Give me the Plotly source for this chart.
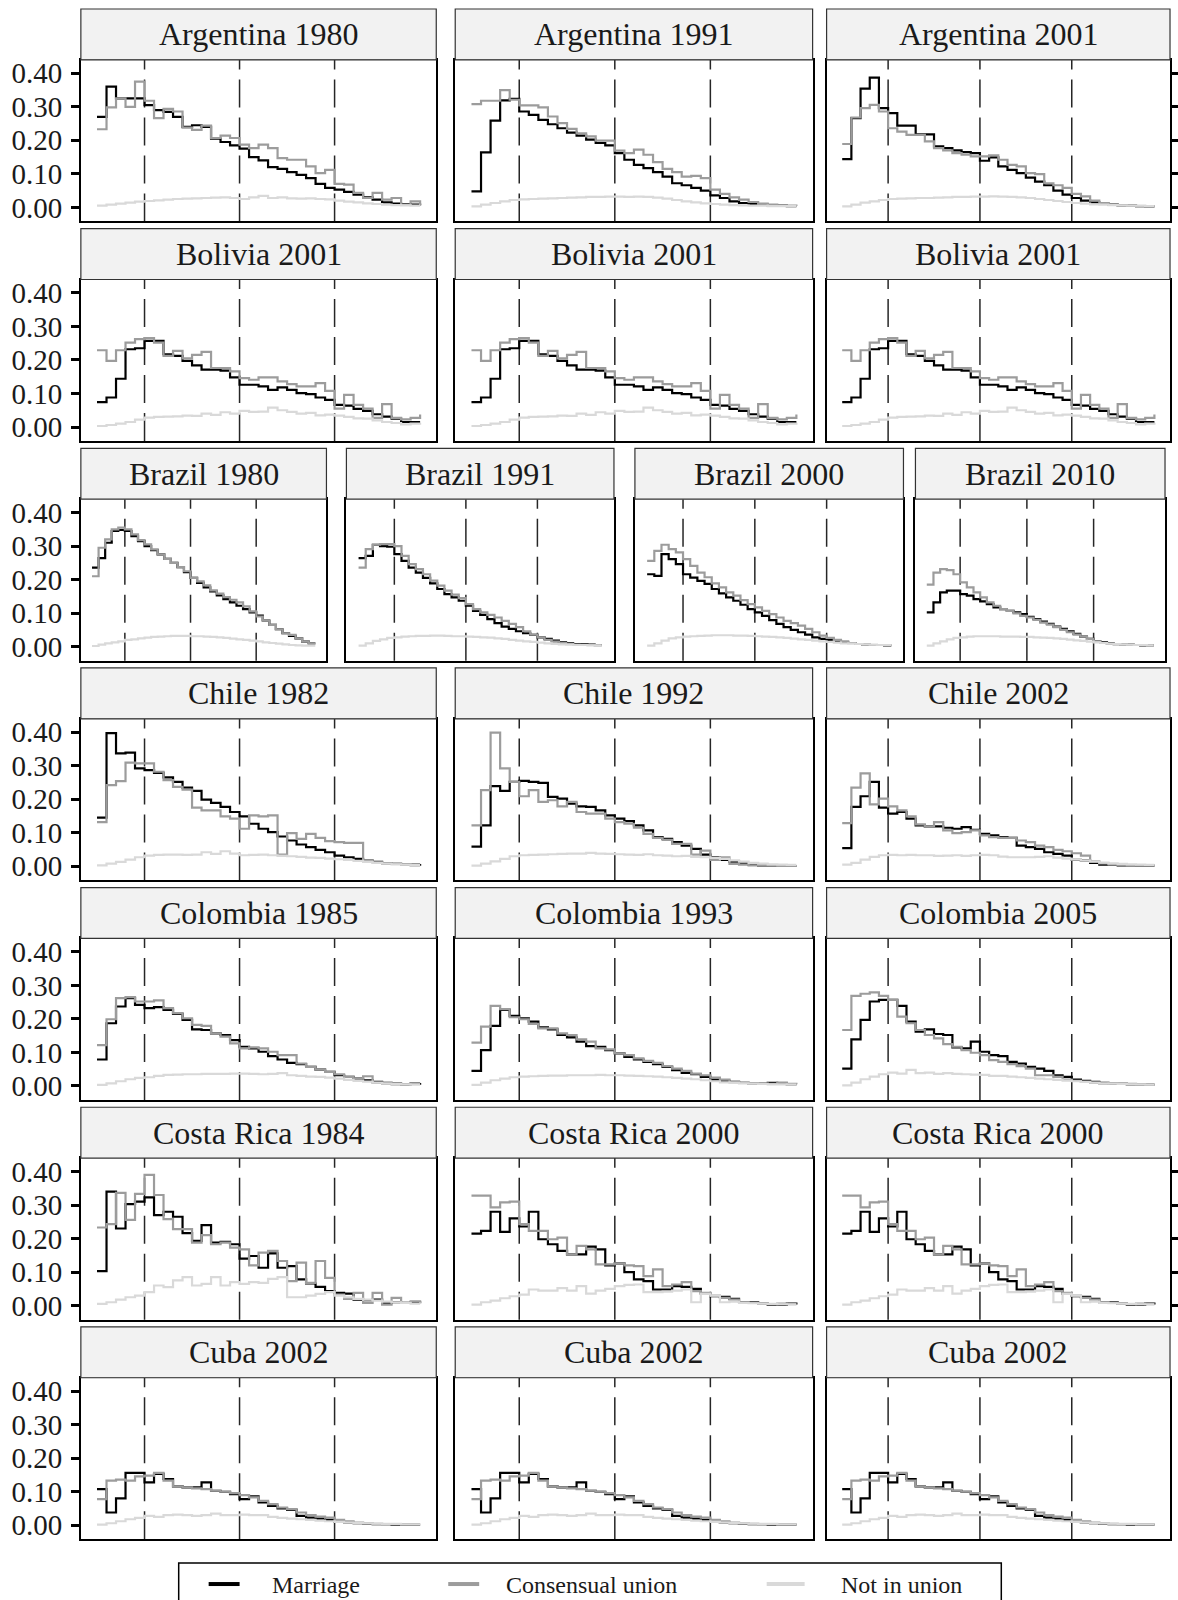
import plotly.graph_objects as go

# ---------------- data (ages 15..49) ----------------
AGES = list(range(15, 50))
SERIES_NAMES = ["Marriage", "Consensual union", "Not in union"]
Y_TICKS = [0.0, 0.1, 0.2, 0.3, 0.4]
Y_TICK_LABELS = ["0.00", "0.10", "0.20", "0.30", "0.40"]
DASH_AGES = [20, 30, 40]

arg1980_mar = [0.27, 0.36, 0.325, 0.325, 0.325, 0.305, 0.29, 0.285, 0.27, 0.24, 0.245, 0.24, 0.205, 0.195, 0.185, 0.175, 0.15, 0.14, 0.12, 0.115, 0.105, 0.097, 0.087, 0.07, 0.058, 0.053, 0.046, 0.038, 0.03, 0.023, 0.015, 0.011, 0.01, 0.008, 0.006]
arg1980_con = [0.233, 0.298, 0.325, 0.30, 0.375, 0.318, 0.266, 0.294, 0.286, 0.238, 0.231, 0.244, 0.207, 0.214, 0.207, 0.187, 0.177, 0.187, 0.177, 0.147, 0.142, 0.142, 0.122, 0.102, 0.112, 0.07, 0.068, 0.043, 0.028, 0.043, 0.023, 0.028, 0.008, 0.018, 0.006]
arg1980_not = [0.005, 0.008, 0.011, 0.014, 0.017, 0.019, 0.021, 0.023, 0.025, 0.026, 0.027, 0.028, 0.029, 0.03, 0.028, 0.025, 0.03, 0.034, 0.028, 0.03, 0.027, 0.026, 0.027, 0.025, 0.024, 0.02, 0.017, 0.015, 0.012, 0.01, 0.008, 0.007, 0.006, 0.005, 0.005]

arg1991_mar = [0.048, 0.164, 0.259, 0.319, 0.324, 0.286, 0.276, 0.261, 0.248, 0.236, 0.223, 0.214, 0.202, 0.192, 0.185, 0.162, 0.142, 0.127, 0.117, 0.105, 0.092, 0.072, 0.066, 0.058, 0.05, 0.036, 0.028, 0.018, 0.013, 0.01, 0.008, 0.006, 0.005, 0.004, 0.004]
arg1991_con = [0.308, 0.318, 0.318, 0.35, 0.321, 0.304, 0.304, 0.298, 0.271, 0.251, 0.234, 0.221, 0.212, 0.199, 0.199, 0.169, 0.162, 0.172, 0.157, 0.135, 0.115, 0.105, 0.092, 0.094, 0.087, 0.053, 0.04, 0.03, 0.023, 0.016, 0.011, 0.008, 0.006, 0.005, 0.004]
arg1991_not = [0.003, 0.008, 0.013, 0.018, 0.022, 0.024, 0.025, 0.026, 0.027, 0.028, 0.029, 0.03, 0.031, 0.031, 0.032, 0.032, 0.031, 0.032, 0.031, 0.029, 0.026, 0.022, 0.018, 0.015, 0.012, 0.01, 0.008, 0.007, 0.006, 0.005, 0.005, 0.004, 0.004, 0.004, 0.004]

arg2001_mar = [0.144, 0.266, 0.354, 0.387, 0.296, 0.281, 0.244, 0.244, 0.218, 0.218, 0.182, 0.177, 0.17, 0.165, 0.162, 0.139, 0.149, 0.122, 0.112, 0.102, 0.089, 0.077, 0.066, 0.05, 0.038, 0.028, 0.02, 0.015, 0.011, 0.008, 0.006, 0.005, 0.004, 0.003, 0.003]
arg2001_con = [0.189, 0.268, 0.296, 0.306, 0.286, 0.236, 0.226, 0.216, 0.216, 0.197, 0.177, 0.17, 0.162, 0.157, 0.152, 0.152, 0.155, 0.142, 0.127, 0.122, 0.102, 0.099, 0.072, 0.066, 0.058, 0.04, 0.033, 0.02, 0.013, 0.008, 0.006, 0.005, 0.004, 0.003, 0.003]
arg2001_not = [0.003, 0.008, 0.014, 0.018, 0.022, 0.025, 0.026, 0.027, 0.028, 0.028, 0.029, 0.03, 0.031, 0.031, 0.032, 0.032, 0.033, 0.032, 0.031, 0.03, 0.028, 0.025, 0.022, 0.019, 0.016, 0.013, 0.011, 0.009, 0.008, 0.007, 0.006, 0.005, 0.005, 0.004, 0.004]

bol2001_mar = [0.074, 0.088, 0.144, 0.232, 0.235, 0.257, 0.257, 0.217, 0.212, 0.197, 0.184, 0.171, 0.171, 0.168, 0.148, 0.126, 0.126, 0.121, 0.111, 0.118, 0.111, 0.101, 0.098, 0.088, 0.081, 0.066, 0.064, 0.054, 0.048, 0.038, 0.031, 0.025, 0.015, 0.015, 0.015]
bol2001_con = [0.229, 0.197, 0.229, 0.252, 0.262, 0.265, 0.252, 0.212, 0.227, 0.205, 0.215, 0.224, 0.176, 0.176, 0.166, 0.146, 0.141, 0.148, 0.148, 0.136, 0.128, 0.121, 0.121, 0.131, 0.108, 0.055, 0.096, 0.066, 0.055, 0.027, 0.068, 0.027, 0.023, 0.027, 0.037]
bol2001_not = [0.003, 0.006, 0.01, 0.015, 0.022, 0.028, 0.03, 0.031, 0.032, 0.034, 0.033, 0.04, 0.036, 0.044, 0.04, 0.048, 0.045, 0.046, 0.058, 0.05, 0.045, 0.04, 0.042, 0.035, 0.037, 0.034, 0.03, 0.026, 0.025, 0.02, 0.015, 0.012, 0.008, 0.01, 0.013]

bra1980_mar = [0.236, 0.264, 0.31, 0.345, 0.348, 0.345, 0.33, 0.315, 0.30, 0.288, 0.275, 0.262, 0.25, 0.237, 0.222, 0.205, 0.19, 0.177, 0.165, 0.153, 0.142, 0.132, 0.122, 0.112, 0.102, 0.093, 0.078, 0.065, 0.052, 0.04, 0.032, 0.025, 0.015, 0.01, 0.01]
bra1980_con = [0.21, 0.295, 0.32, 0.35, 0.355, 0.35, 0.335, 0.318, 0.305, 0.29, 0.275, 0.262, 0.25, 0.237, 0.225, 0.205, 0.195, 0.183, 0.168, 0.158, 0.148, 0.14, 0.132, 0.12, 0.105, 0.09, 0.078, 0.065, 0.052, 0.04, 0.035, 0.025, 0.015, 0.01, 0.01]
bra1980_not = [0.002, 0.006, 0.01, 0.013, 0.016, 0.02, 0.022, 0.025, 0.027, 0.029, 0.03, 0.031, 0.032, 0.032, 0.032, 0.031, 0.031, 0.03, 0.029, 0.028, 0.026, 0.024, 0.022, 0.02, 0.018, 0.016, 0.013, 0.011, 0.009, 0.007, 0.005, 0.004, 0.003, 0.003, 0.003]

bra1991_mar = [0.264, 0.271, 0.304, 0.30, 0.298, 0.276, 0.256, 0.236, 0.221, 0.205, 0.189, 0.172, 0.157, 0.147, 0.137, 0.122, 0.107, 0.095, 0.082, 0.07, 0.06, 0.053, 0.046, 0.04, 0.035, 0.028, 0.023, 0.018, 0.013, 0.01, 0.008, 0.007, 0.006, 0.005, 0.005]
bra1991_con = [0.236, 0.291, 0.304, 0.306, 0.306, 0.30, 0.271, 0.246, 0.231, 0.216, 0.197, 0.182, 0.167, 0.155, 0.145, 0.127, 0.112, 0.102, 0.095, 0.087, 0.077, 0.068, 0.058, 0.046, 0.036, 0.028, 0.02, 0.015, 0.011, 0.008, 0.006, 0.005, 0.005, 0.004, 0.004]
bra1991_not = [0.003, 0.01, 0.017, 0.022, 0.026, 0.028, 0.03, 0.031, 0.032, 0.032, 0.033, 0.033, 0.032, 0.031, 0.031, 0.03, 0.029, 0.028, 0.027, 0.025, 0.023, 0.02, 0.018, 0.016, 0.014, 0.012, 0.01, 0.008, 0.007, 0.006, 0.005, 0.005, 0.004, 0.004, 0.004]

bra2000_mar = [0.216, 0.211, 0.276, 0.261, 0.246, 0.216, 0.206, 0.196, 0.187, 0.172, 0.159, 0.147, 0.137, 0.125, 0.112, 0.102, 0.092, 0.079, 0.068, 0.058, 0.05, 0.043, 0.036, 0.028, 0.023, 0.02, 0.016, 0.013, 0.011, 0.008, 0.006, 0.005, 0.005, 0.004, 0.004]
bra2000_con = [0.256, 0.286, 0.304, 0.291, 0.281, 0.261, 0.241, 0.221, 0.207, 0.189, 0.177, 0.162, 0.152, 0.139, 0.127, 0.117, 0.107, 0.097, 0.087, 0.077, 0.07, 0.063, 0.053, 0.043, 0.033, 0.026, 0.02, 0.016, 0.011, 0.008, 0.006, 0.005, 0.005, 0.004, 0.004]
bra2000_not = [0.003, 0.01, 0.018, 0.025, 0.028, 0.03, 0.031, 0.032, 0.033, 0.034, 0.034, 0.034, 0.033, 0.033, 0.032, 0.031, 0.03, 0.029, 0.028, 0.026, 0.024, 0.022, 0.02, 0.018, 0.016, 0.014, 0.012, 0.01, 0.009, 0.008, 0.007, 0.006, 0.005, 0.005, 0.005]

bra2010_mar = [0.102, 0.132, 0.162, 0.167, 0.167, 0.157, 0.152, 0.142, 0.135, 0.127, 0.117, 0.112, 0.107, 0.102, 0.097, 0.089, 0.082, 0.075, 0.068, 0.06, 0.053, 0.046, 0.038, 0.03, 0.023, 0.016, 0.013, 0.01, 0.008, 0.007, 0.006, 0.005, 0.004, 0.004, 0.004]
bra2010_con = [0.185, 0.221, 0.231, 0.228, 0.216, 0.192, 0.177, 0.162, 0.147, 0.132, 0.122, 0.112, 0.107, 0.099, 0.092, 0.087, 0.08, 0.072, 0.066, 0.058, 0.05, 0.043, 0.036, 0.03, 0.023, 0.016, 0.011, 0.008, 0.007, 0.006, 0.005, 0.005, 0.004, 0.004, 0.004]
bra2010_not = [0.003, 0.01, 0.016, 0.022, 0.026, 0.028, 0.03, 0.031, 0.031, 0.031, 0.031, 0.03, 0.03, 0.03, 0.029, 0.029, 0.028, 0.027, 0.026, 0.025, 0.023, 0.021, 0.019, 0.017, 0.015, 0.013, 0.011, 0.009, 0.008, 0.007, 0.006, 0.005, 0.005, 0.004, 0.004]

chi1982_mar = [0.145, 0.397, 0.337, 0.339, 0.292, 0.287, 0.279, 0.265, 0.252, 0.235, 0.225, 0.199, 0.189, 0.177, 0.162, 0.149, 0.127, 0.112, 0.102, 0.089, 0.077, 0.065, 0.057, 0.049, 0.042, 0.032, 0.027, 0.022, 0.017, 0.013, 0.009, 0.007, 0.005, 0.005, 0.007]
chi1982_con = [0.132, 0.242, 0.254, 0.309, 0.307, 0.307, 0.282, 0.257, 0.237, 0.229, 0.175, 0.167, 0.167, 0.149, 0.142, 0.112, 0.152, 0.149, 0.152, 0.035, 0.099, 0.082, 0.097, 0.085, 0.075, 0.072, 0.07, 0.07, 0.017, 0.012, 0.009, 0.007, 0.004, 0.003, 0.003]
chi1982_not = [0.003, 0.008, 0.013, 0.02, 0.027, 0.032, 0.034, 0.035, 0.035, 0.034, 0.035, 0.042, 0.037, 0.045, 0.038, 0.033, 0.034, 0.035, 0.033, 0.031, 0.03, 0.028, 0.026, 0.025, 0.023, 0.021, 0.019, 0.016, 0.013, 0.01, 0.008, 0.006, 0.005, 0.004, 0.004]

chi1992_mar = [0.059, 0.122, 0.239, 0.225, 0.252, 0.255, 0.252, 0.249, 0.207, 0.202, 0.187, 0.179, 0.177, 0.167, 0.152, 0.142, 0.135, 0.122, 0.107, 0.087, 0.082, 0.072, 0.062, 0.052, 0.035, 0.027, 0.019, 0.014, 0.009, 0.005, 0.002, 0.002, 0.001, 0.001, 0.001]
chi1992_con = [0.122, 0.227, 0.399, 0.292, 0.252, 0.209, 0.227, 0.192, 0.197, 0.179, 0.192, 0.162, 0.157, 0.157, 0.142, 0.132, 0.127, 0.115, 0.097, 0.085, 0.079, 0.067, 0.067, 0.035, 0.047, 0.019, 0.027, 0.007, 0.005, 0.003, 0.002, 0.002, 0.001, 0.001, 0.001]
chi1992_not = [0.002, 0.008, 0.015, 0.022, 0.03, 0.033, 0.034, 0.035, 0.036, 0.037, 0.038, 0.038, 0.04, 0.038, 0.037, 0.036, 0.035, 0.034, 0.036, 0.033, 0.032, 0.03, 0.031, 0.028, 0.027, 0.025, 0.022, 0.018, 0.014, 0.01, 0.008, 0.006, 0.005, 0.004, 0.004]

chi2002_mar = [0.054, 0.177, 0.209, 0.252, 0.175, 0.157, 0.162, 0.142, 0.122, 0.119, 0.119, 0.115, 0.112, 0.117, 0.109, 0.097, 0.092, 0.087, 0.085, 0.062, 0.057, 0.052, 0.042, 0.037, 0.032, 0.019, 0.017, 0.01, 0.005, 0.004, 0.003, 0.003, 0.002, 0.002, 0.002]
chi2002_con = [0.129, 0.235, 0.277, 0.185, 0.202, 0.179, 0.167, 0.149, 0.125, 0.119, 0.132, 0.107, 0.099, 0.102, 0.107, 0.092, 0.087, 0.085, 0.085, 0.077, 0.072, 0.062, 0.057, 0.049, 0.045, 0.039, 0.032, 0.015, 0.009, 0.005, 0.004, 0.003, 0.002, 0.002, 0.002]
chi2002_not = [0.005, 0.01, 0.02, 0.028, 0.033, 0.034, 0.033, 0.034, 0.033, 0.033, 0.031, 0.032, 0.033, 0.031, 0.033, 0.034, 0.033, 0.029, 0.027, 0.027, 0.027, 0.028, 0.03, 0.026, 0.023, 0.02, 0.017, 0.014, 0.011, 0.009, 0.007, 0.006, 0.005, 0.004, 0.004]

col1985_mar = [0.079, 0.187, 0.237, 0.262, 0.242, 0.232, 0.235, 0.227, 0.215, 0.197, 0.169, 0.167, 0.157, 0.152, 0.137, 0.117, 0.112, 0.102, 0.089, 0.079, 0.069, 0.065, 0.057, 0.049, 0.042, 0.032, 0.027, 0.022, 0.017, 0.012, 0.009, 0.007, 0.005, 0.007, 0.009]
col1985_con = [0.122, 0.199, 0.262, 0.265, 0.252, 0.252, 0.255, 0.232, 0.217, 0.202, 0.182, 0.179, 0.157, 0.147, 0.127, 0.112, 0.115, 0.112, 0.102, 0.092, 0.092, 0.067, 0.057, 0.049, 0.042, 0.035, 0.027, 0.022, 0.029, 0.009, 0.007, 0.005, 0.005, 0.007, 0.007]
col1985_not = [0.003, 0.008, 0.014, 0.02, 0.024, 0.026, 0.03, 0.033, 0.034, 0.035, 0.035, 0.036, 0.036, 0.036, 0.037, 0.037, 0.036, 0.035, 0.036, 0.038, 0.032, 0.03, 0.028, 0.027, 0.025, 0.022, 0.018, 0.015, 0.013, 0.01, 0.008, 0.006, 0.005, 0.004, 0.004]

col1993_mar = [0.045, 0.107, 0.179, 0.227, 0.209, 0.202, 0.192, 0.175, 0.169, 0.152, 0.145, 0.132, 0.119, 0.117, 0.107, 0.097, 0.087, 0.079, 0.072, 0.065, 0.057, 0.047, 0.039, 0.035, 0.027, 0.019, 0.015, 0.012, 0.009, 0.007, 0.007, 0.009, 0.007, 0.005, 0.005]
col1993_con = [0.129, 0.177, 0.239, 0.229, 0.205, 0.199, 0.185, 0.172, 0.172, 0.157, 0.152, 0.139, 0.132, 0.112, 0.109, 0.097, 0.092, 0.082, 0.075, 0.069, 0.059, 0.052, 0.045, 0.037, 0.032, 0.025, 0.019, 0.012, 0.009, 0.007, 0.007, 0.006, 0.01, 0.006, 0.005]
col1993_not = [0.003, 0.01, 0.017, 0.022, 0.026, 0.028, 0.029, 0.03, 0.031, 0.031, 0.032, 0.032, 0.032, 0.033, 0.032, 0.032, 0.031, 0.03, 0.029, 0.028, 0.026, 0.024, 0.022, 0.02, 0.017, 0.014, 0.011, 0.009, 0.008, 0.007, 0.006, 0.005, 0.005, 0.004, 0.004]

col2005_mar = [0.052, 0.139, 0.197, 0.252, 0.257, 0.257, 0.239, 0.192, 0.162, 0.169, 0.155, 0.152, 0.115, 0.112, 0.132, 0.102, 0.092, 0.089, 0.072, 0.067, 0.057, 0.052, 0.045, 0.032, 0.027, 0.019, 0.015, 0.012, 0.009, 0.007, 0.006, 0.005, 0.005, 0.004, 0.004]
col2005_con = [0.167, 0.269, 0.275, 0.279, 0.269, 0.257, 0.207, 0.187, 0.167, 0.152, 0.142, 0.125, 0.117, 0.107, 0.099, 0.092, 0.077, 0.072, 0.065, 0.059, 0.052, 0.032, 0.032, 0.027, 0.019, 0.015, 0.012, 0.009, 0.007, 0.008, 0.008, 0.006, 0.005, 0.004, 0.004]
col2005_not = [0.002, 0.01, 0.02, 0.028, 0.035, 0.04, 0.037, 0.048, 0.038, 0.04, 0.036, 0.038, 0.036, 0.035, 0.034, 0.033, 0.03, 0.03, 0.028, 0.026, 0.024, 0.022, 0.02, 0.018, 0.016, 0.014, 0.012, 0.01, 0.008, 0.007, 0.006, 0.005, 0.005, 0.004, 0.004]

cri1984_mar = [0.103, 0.34, 0.23, 0.303, 0.31, 0.323, 0.27, 0.28, 0.265, 0.216, 0.193, 0.24, 0.188, 0.19, 0.183, 0.14, 0.148, 0.113, 0.156, 0.113, 0.118, 0.078, 0.066, 0.056, 0.043, 0.038, 0.036, 0.018, 0.016, 0.018, 0.008, 0.01, 0.008, 0.01, 0.008]
cri1984_con = [0.233, 0.243, 0.336, 0.256, 0.333, 0.39, 0.33, 0.258, 0.228, 0.228, 0.188, 0.21, 0.183, 0.188, 0.173, 0.168, 0.12, 0.158, 0.163, 0.133, 0.073, 0.128, 0.068, 0.133, 0.083, 0.033, 0.02, 0.038, 0.008, 0.038, 0.003, 0.023, 0.008, 0.013, 0.006]
cri1984_not = [0.005, 0.01, 0.018, 0.025, 0.03, 0.04, 0.06, 0.055, 0.075, 0.085, 0.06, 0.065, 0.085, 0.06, 0.07, 0.065, 0.07, 0.068, 0.08, 0.085, 0.025, 0.025, 0.03, 0.035, 0.04, 0.03, 0.025, 0.02, 0.018, 0.015, 0.012, 0.01, 0.008, 0.006, 0.005]

cri2000_mar = [0.215, 0.223, 0.28, 0.22, 0.26, 0.236, 0.28, 0.198, 0.183, 0.163, 0.153, 0.153, 0.176, 0.168, 0.12, 0.126, 0.1, 0.078, 0.073, 0.048, 0.048, 0.058, 0.056, 0.05, 0.036, 0.028, 0.026, 0.02, 0.01, 0.01, 0.006, 0.003, 0.003, 0.006, 0.003]
cri2000_con = [0.328, 0.328, 0.293, 0.308, 0.31, 0.243, 0.223, 0.223, 0.198, 0.203, 0.153, 0.178, 0.168, 0.123, 0.123, 0.126, 0.12, 0.118, 0.088, 0.108, 0.058, 0.063, 0.07, 0.043, 0.038, 0.03, 0.023, 0.018, 0.01, 0.008, 0.006, 0.004, 0.006, 0.004, 0.004]
cri2000_not = [0.003, 0.01, 0.015, 0.022, 0.028, 0.033, 0.048, 0.045, 0.045, 0.052, 0.045, 0.058, 0.036, 0.045, 0.05, 0.058, 0.062, 0.063, 0.04, 0.04, 0.042, 0.045, 0.048, 0.01, 0.035, 0.03, 0.01, 0.012, 0.008, 0.007, 0.006, 0.005, 0.004, 0.004, 0.004]

cub2002_mar = [0.108, 0.038, 0.08, 0.156, 0.156, 0.128, 0.153, 0.138, 0.116, 0.113, 0.113, 0.128, 0.103, 0.1, 0.093, 0.078, 0.086, 0.068, 0.058, 0.05, 0.046, 0.028, 0.023, 0.02, 0.016, 0.01, 0.008, 0.006, 0.004, 0.003, 0.003, 0.002, 0.002, 0.002, 0.002]
cub2002_con = [0.078, 0.133, 0.136, 0.133, 0.146, 0.148, 0.156, 0.133, 0.116, 0.113, 0.11, 0.108, 0.103, 0.1, 0.096, 0.09, 0.083, 0.073, 0.063, 0.053, 0.048, 0.038, 0.03, 0.026, 0.023, 0.016, 0.012, 0.008, 0.005, 0.004, 0.003, 0.003, 0.002, 0.002, 0.002]
cub2002_not = [0.002, 0.006, 0.012, 0.018, 0.022, 0.028, 0.025, 0.03, 0.032, 0.03, 0.028, 0.03, 0.035, 0.03, 0.03, 0.032, 0.03, 0.03, 0.025, 0.022, 0.02, 0.018, 0.016, 0.014, 0.012, 0.01, 0.008, 0.007, 0.006, 0.005, 0.004, 0.004, 0.003, 0.003, 0.003]

# panel rows: (title, marriage, consensual, not in union)
ROWS = [
    [("Argentina 1980", arg1980_mar, arg1980_con, arg1980_not),
     ("Argentina 1991", arg1991_mar, arg1991_con, arg1991_not),
     ("Argentina 2001", arg2001_mar, arg2001_con, arg2001_not)],
    [("Bolivia 2001", bol2001_mar, bol2001_con, bol2001_not),
     ("Bolivia 2001", bol2001_mar, bol2001_con, bol2001_not),
     ("Bolivia 2001", bol2001_mar, bol2001_con, bol2001_not)],
    [("Brazil 1980", bra1980_mar, bra1980_con, bra1980_not),
     ("Brazil 1991", bra1991_mar, bra1991_con, bra1991_not),
     ("Brazil 2000", bra2000_mar, bra2000_con, bra2000_not),
     ("Brazil 2010", bra2010_mar, bra2010_con, bra2010_not)],
    [("Chile 1982", chi1982_mar, chi1982_con, chi1982_not),
     ("Chile 1992", chi1992_mar, chi1992_con, chi1992_not),
     ("Chile 2002", chi2002_mar, chi2002_con, chi2002_not)],
    [("Colombia 1985", col1985_mar, col1985_con, col1985_not),
     ("Colombia 1993", col1993_mar, col1993_con, col1993_not),
     ("Colombia 2005", col2005_mar, col2005_con, col2005_not)],
    [("Costa Rica 1984", cri1984_mar, cri1984_con, cri1984_not),
     ("Costa Rica 2000", cri2000_mar, cri2000_con, cri2000_not),
     ("Costa Rica 2000", cri2000_mar, cri2000_con, cri2000_not)],
    [("Cuba 2002", cub2002_mar, cub2002_con, cub2002_not),
     ("Cuba 2002", cub2002_mar, cub2002_con, cub2002_not),
     ("Cuba 2002", cub2002_mar, cub2002_con, cub2002_not)],
]

# ---------------- styling / geometry ----------------
W, H = 1178, 1600
FONT = "Liberation Serif"
COLORS = ["#000000", "#9c9c9c", "#d9d9d9"]
ROW_PITCH = 220.2
STRIP_TOP0, PLOT_TOP0, PLOT_BOT0 = 7, 58, 220
COLS3 = [(81, 437), (456, 814), (828, 1172)]
COLS4 = [(81, 327), (347, 615), (636, 905), (917, 1167)]
RIGHT_TICK_PANELS = {(0, 2), (5, 2)}

fig = go.Figure()
shapes = []
annotations = []
layout = {}

n = 0
for r, row in enumerate(ROWS):
    cols = COLS4 if len(row) == 4 else COLS3
    s_top = STRIP_TOP0 + r * ROW_PITCH
    p_top = PLOT_TOP0 + r * ROW_PITCH
    p_bot = PLOT_BOT0 + r * ROW_PITCH
    for c, (title, mar, con, nun) in enumerate(row):
        n += 1
        xl, xr = cols[c]
        xa = "x" if n == 1 else f"x{n}"
        ya = "y" if n == 1 else f"y{n}"
        for name, vals, col in zip(SERIES_NAMES, [mar, con, nun], COLORS):
            fig.add_trace(go.Scatter(
                x=AGES, y=vals, mode="lines", name=name,
                line=dict(color=col, width=2.2, shape="hv"),
                xaxis=xa, yaxis=ya, showlegend=False, hoverinfo="skip"))
        left = c == 0
        right_ticks = (r, c) in RIGHT_TICK_PANELS
        layout["xaxis" if n == 1 else f"xaxis{n}"] = dict(
            domain=[xl / W, xr / W], range=[13.3, 50.7], anchor=ya,
            showticklabels=False, ticks="", showgrid=False, zeroline=False,
            showline=True, mirror=True, linecolor="black", linewidth=1.5)
        layout["yaxis" if n == 1 else f"yaxis{n}"] = dict(
            domain=[1 - p_bot / H, 1 - p_top / H], range=[-0.042, 0.44], anchor=xa,
            tickvals=Y_TICKS, ticktext=Y_TICK_LABELS,
            showticklabels=left,
            ticks="outside" if (left or right_ticks) else "",
            side="right" if right_ticks else "left",
            ticklen=8, tickwidth=3, tickcolor="black",
            ticklabelstandoff=3,
            tickfont=dict(family=FONT, size=29, color="#1a1a1a"),
            showgrid=False, zeroline=False,
            showline=True, mirror=True, linecolor="black", linewidth=1.5)
        for a in DASH_AGES:
            shapes.append(dict(type="line", xref=xa, yref=f"{ya} domain",
                               x0=a, x1=a, y0=0, y1=1, layer="below",
                               line=dict(color="#262626", width=1.5, dash="28px,10px")))
        # strip
        shapes.append(dict(type="rect", xref="paper", yref="paper",
                           x0=xl / W, x1=xr / W, y0=1 - p_top / H, y1=1 - s_top / H,
                           fillcolor="#f2f2f2", line=dict(color="#333333", width=1.2),
                           layer="above"))
        annotations.append(dict(text=title, xref="paper", yref="paper",
                                x=(xl + xr) / 2 / W, y=1 - (s_top + p_top) / 2 / H,
                                xanchor="center", yanchor="middle", showarrow=False,
                                font=dict(family=FONT, size=32, color="#1a1a1a")))

# ---------------- legend (manual, boxed) ----------------
LEG_TOP, LEG_BOT = 1565, 1603
LEG_Y = 1586
shapes.append(dict(type="rect", xref="paper", yref="paper",
                   x0=179 / W, x1=1003 / W, y0=1 - LEG_BOT / H, y1=1 - LEG_TOP / H,
                   fillcolor="white", line=dict(color="black", width=1.5)))
LEG_LINE_X = [(209, 240), (449, 480), (768, 806)]
LEG_TEXT_X = [270, 505, 840]
for name, col, (a, b), tx in zip(SERIES_NAMES, COLORS, LEG_LINE_X, LEG_TEXT_X):
    shapes.append(dict(type="line", xref="paper", yref="paper",
                       x0=a / W, x1=b / W, y0=1 - LEG_Y / H, y1=1 - LEG_Y / H,
                       line=dict(color=col, width=4)))
    annotations.append(dict(text=name, xref="paper", yref="paper",
                            x=tx / W, y=1 - (LEG_Y + 1) / H, xanchor="left", yanchor="middle",
                            showarrow=False,
                            font=dict(family=FONT, size=24, color="#1a1a1a")))

fig.update_layout(
    width=W, height=H, margin=dict(l=0, r=0, t=0, b=0),
    paper_bgcolor="white", plot_bgcolor="white",
    font=dict(family=FONT),
    shapes=shapes, annotations=annotations, showlegend=False,
    **layout)

fig.write_html("out.html")
